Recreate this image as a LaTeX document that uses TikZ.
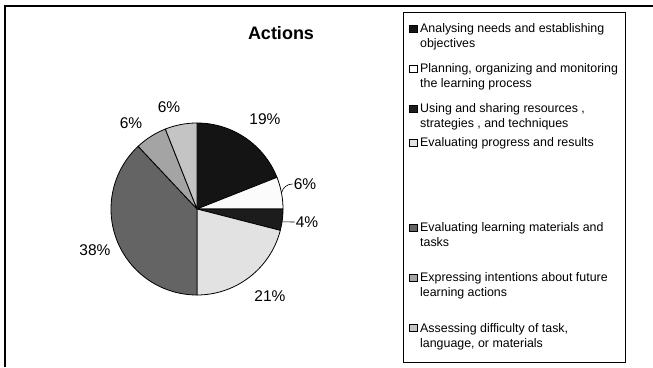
\documentclass[tikz,border=0pt]{standalone}
\usepackage{fontspec}
\setmainfont{Liberation Sans}
\usetikzlibrary{calc,positioning}
\definecolor{sliceA}{HTML}{141414}
\definecolor{sliceB}{HTML}{FBFBFB}
\definecolor{sliceC}{HTML}{1C1C1C}
\definecolor{sliceD}{HTML}{E2E2E2}
\definecolor{sliceE}{HTML}{646464}
\definecolor{sliceF}{HTML}{A4A4A4}
\definecolor{sliceG}{HTML}{C4C4C4}
\tikzset{
    slice/.style={draw=black, line width=0.8pt, line join=round}, % one piece of the pie
    pct/.style={font=\fontsize{15.5}{18}\selectfont, inner sep=0pt}, % percentage labels
    legtext/.style={font=\fontsize{12.4}{15}\selectfont, anchor=base west, inner sep=0pt},
    legmark/.style={draw=black, line width=0.6pt, minimum size=7.5pt, inner sep=0pt, anchor=south west},
}

\begin{document}
\begin{tikzpicture}[x=1pt,y=1pt]
        \useasboundingbox (0,0) rectangle (653,367);

        % Cornice esterna
        \draw[line width=1.2pt] (5,0) -- (5,361) -- (653,361);

        % Titolo
        \node[font=\fontsize{18}{20}\selectfont\bfseries] (title) at (281,334) {Actions};

        % Torta, in senso orario dall'alto
        \coordinate (c) at (197,158);
        \filldraw[slice, fill=sliceA] (c) -- ++(90:86pt) arc[start angle=90, end angle=21.6, radius=86pt] -- cycle;
        \filldraw[slice, fill=sliceB] (c) -- ++(21.6:86pt) arc[start angle=21.6, end angle=0, radius=86pt] -- cycle;
        \filldraw[slice, fill=sliceC] (c) -- ++(0:86pt) arc[start angle=0, end angle=-14.4, radius=86pt] -- cycle;
        \filldraw[slice, fill=sliceD] (c) -- ++(-14.4:86pt) arc[start angle=-14.4, end angle=-90, radius=86pt] -- cycle;
        \filldraw[slice, fill=sliceE] (c) -- ++(-90:86pt) arc[start angle=-90, end angle=-226.8, radius=86pt] -- cycle;
        \filldraw[slice, fill=sliceF] (c) -- ++(-226.8:86pt) arc[start angle=-226.8, end angle=-248.4, radius=86pt] -- cycle;
        \filldraw[slice, fill=sliceG] (c) -- ++(-248.4:86pt) arc[start angle=-248.4, end angle=-270, radius=86pt] -- cycle;

        % Percentuali
        \node[pct] (p19) at (265,248) {19\%};
        \node[pct] (p6b) at (305,183) {6\%};
        \node[pct] (p4) at (307,145) {4\%};
        \node[pct] (p21) at (270,71) {21\%};
        \node[pct] (p38) at (95,117) {38\%};
        \node[pct] (p6f) at (131,244) {6\%};
        \node[pct] (p6g) at (169,260) {6\%};

        % Linee guida
        \coordinate (e6) at ($(c)+(10.8:86pt)$);
        \coordinate (e4) at ($(c)+(-8.6:86pt)$);
        \draw[line width=0.6pt] (e6) to[out=75,in=180] ($(p6b.west)+(-1,0)$);
        \draw[line width=0.6pt] (e4) -- ($(p4.west)+(-1,0)$);

        % Legenda
        \draw[line width=0.9pt] (403,5) rectangle (625,355);
        \node[legmark, fill=sliceA] (m1) at (409,334) {};
        \node[legtext] (t1) at (420,334) {\begin{tabular}[t]{@{}l@{}}
                         Analysing needs and establishing \\
                         objectives
                         \end{tabular}};
        \node[legmark, fill=white] (m2) at (409,294) {};
        \node[legtext] (t2) at (420,294) {\begin{tabular}[t]{@{}l@{}}
                         Planning, organizing and monitoring \\
                         the learning process
                         \end{tabular}};
        \node[legmark, fill=sliceC] (m3) at (409,254) {};
        \node[legtext] (t3) at (420,254) {\begin{tabular}[t]{@{}l@{}}
                         Using and sharing resources , \\
                         strategies , and techniques
                         \end{tabular}};
        \node[legmark, fill=sliceD] (m4) at (409,220) {};
        \node[legtext] (t4) at (420,220) {Evaluating progress and results};
        \node[legmark, fill=sliceE] (m5) at (409,135) {};
        \node[legtext] (t5) at (420,135) {\begin{tabular}[t]{@{}l@{}}
                         Evaluating learning materials and \\
                         tasks
                         \end{tabular}};
        \node[legmark, fill=sliceF] (m6) at (409,85) {};
        \node[legtext] (t6) at (420,85) {\begin{tabular}[t]{@{}l@{}}
                         Expressing intentions about future \\
                         learning actions
                         \end{tabular}};
        \node[legmark, fill=sliceG] (m7) at (409,35) {};
        \node[legtext] (t7) at (420,35) {\begin{tabular}[t]{@{}l@{}}
                         Assessing difficulty of task, \\
                         language, or materials
                         \end{tabular}};
\end{tikzpicture}
\end{document}
